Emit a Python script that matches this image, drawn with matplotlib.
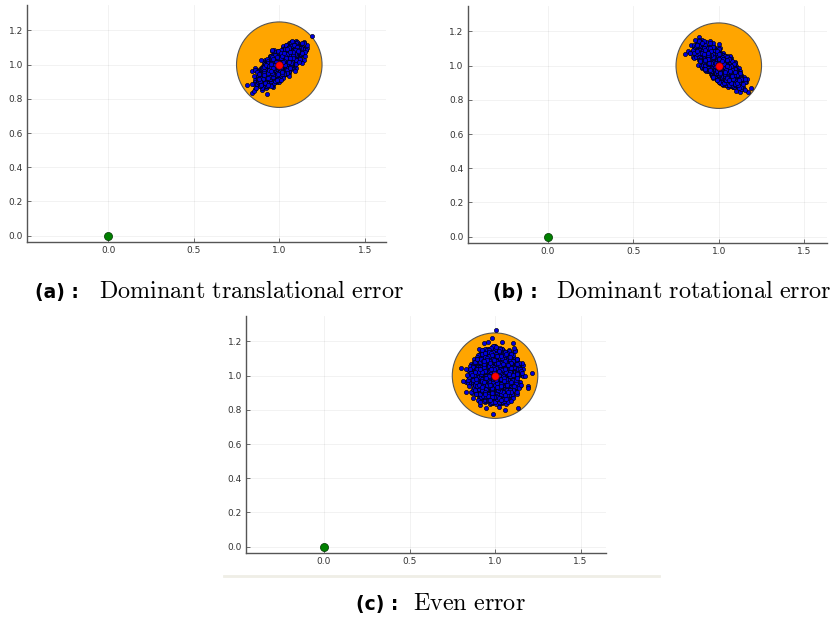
import numpy as np
import matplotlib
matplotlib.use("Agg")
import matplotlib.pyplot as plt
from matplotlib.patches import Circle
from matplotlib.lines import Line2D

plt.rcParams["mathtext.fontset"] = "cm"

# Panel captions
panel_tags = ["(a) :", "(b) :", "(c) :"]
panel_titles = ["Dominant translational error", "Dominant rotational error", "Even error"]

# Shared geometry of the scene
origin_point = (0.0, 0.0)
target_point = (1.0, 1.0)
tolerance_radius = 0.25

# Monte Carlo error samples around the target, one cloud per panel
n_samples = 5000
cloud_sigma_major = [0.062, 0.062, 0.058]
cloud_sigma_minor = [0.025, 0.025, 0.054]
cloud_angle_deg = [42.0, -42.0, 80.0]
cloud_seed = [7, 11, 23]

x_ticks = [0.0, 0.5, 1.0, 1.5]
y_ticks = [0.0, 0.2, 0.4, 0.6, 0.8, 1.0, 1.2]


def error_cloud(sig_major, sig_minor, angle_deg, seed):
    rng = np.random.default_rng(seed)
    u = rng.normal(0.0, sig_major, n_samples)
    v = rng.normal(0.0, sig_minor, n_samples)
    t = np.deg2rad(angle_deg)
    x = target_point[0] + u * np.cos(t) - v * np.sin(t)
    y = target_point[1] + u * np.sin(t) + v * np.cos(t)
    return x, y


W, H = 834, 624
fig = plt.figure(figsize=(W / 100, H / 100), dpi=100)


def px_axes(x0, y0, x1, y1):
    return fig.add_axes([x0 / W, 1 - y1 / H, (x1 - x0) / W, (y1 - y0) / H])


axes_boxes = [(27, 5, 386, 242), (467.7, 6, 826.7, 243), (246, 316, 605.7, 553.3)]
axes_xlim = [(-0.475, 1.624), (-0.468, 1.631), (-0.456, 1.647)]
axes_ylim = [(-0.037, 1.349), (-0.037, 1.349), (-0.039, 1.349)]

for i, box in enumerate(axes_boxes):
    ax = px_axes(*box)
    ax.set_xlim(*axes_xlim[i])
    ax.set_ylim(*axes_ylim[i])
    ax.set_xticks(x_ticks)
    ax.set_yticks(y_ticks)
    ax.set_xticklabels([f"{v:.1f}" for v in x_ticks])
    ax.set_yticklabels([f"{v:.1f}" for v in y_ticks])
    ax.grid(True, color="black", alpha=0.06, linewidth=0.6)
    ax.set_axisbelow(True)
    for side in ("top", "right"):
        ax.spines[side].set_visible(False)
    for side in ("left", "bottom"):
        ax.spines[side].set_color("#555555")
        ax.spines[side].set_linewidth(1.0)
    ax.tick_params(direction="in", length=3, width=0.6, color="#555555",
                   labelsize=6.5, labelcolor="#333333", pad=3)

    ax.add_patch(Circle(target_point, tolerance_radius, facecolor="#FFA500",
                        edgecolor="#555555", linewidth=0.8, zorder=2))
    cx, cy = error_cloud(cloud_sigma_major[i], cloud_sigma_minor[i],
                         cloud_angle_deg[i], cloud_seed[i])
    ax.scatter(cx, cy, s=9, c="#0000e0", edgecolors="black", linewidths=0.45, zorder=3)
    ax.scatter([target_point[0]], [target_point[1]], s=28, c="red",
               edgecolors="#800000", linewidths=0.4, zorder=4)
    ax.scatter([origin_point[0]], [origin_point[1]], s=34, c="#008000",
               edgecolors="#003300", linewidths=0.5, zorder=4, clip_on=False)

# Faint separator under the third panel
fig.add_artist(Line2D([224 / W, 659 / W], [1 - 576 / H, 1 - 576 / H],
                      color="#efeee6", linewidth=2.0))

# Captions: bold tag followed by serif title
caption_pos = [(35, 99, 298), (493, 556, 298), (356, 413, 610)]
for tag, title, (xt, xs, yb) in zip(panel_tags, panel_titles, caption_pos):
    fig.text(xt / W, 1 - yb / H, tag, fontsize=13.5, fontweight="bold",
             family="DejaVu Sans", ha="left", va="baseline")
    fig.text(xs / W, 1 - yb / H, r"$\mathrm{" + title.replace(" ", r"\ ") + "}$",
             fontsize=17.4, ha="left", va="baseline")

fig.savefig("out.png", dpi=100)
